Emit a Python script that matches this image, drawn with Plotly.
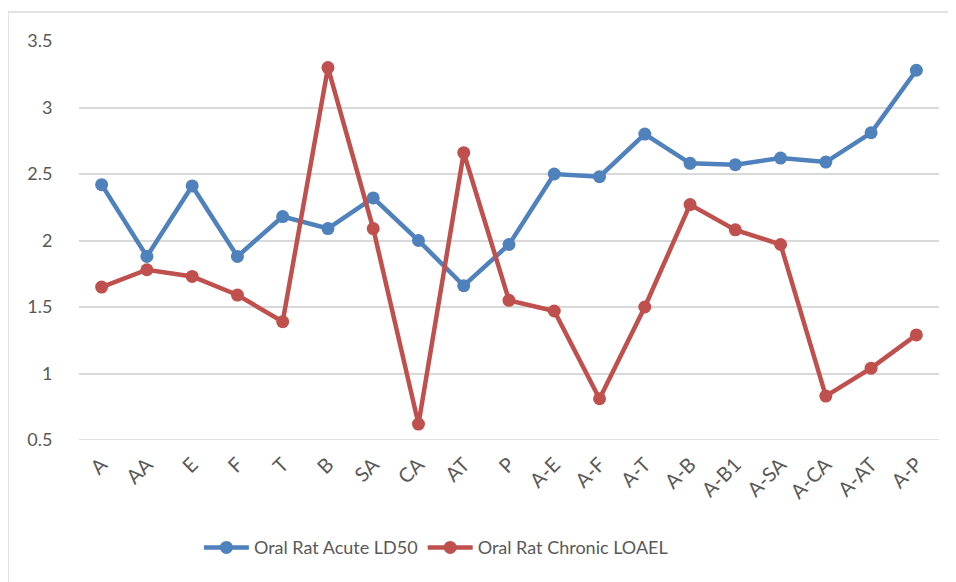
import plotly.graph_objects as go

categories = ["A", "AA", "E", "F", "T", "B", "SA", "CA", "AT", "P",
              "A-E", "A-F", "A-T", "A-B", "A-B1", "A-SA", "A-CA", "A-AT", "A-P"]
acute_ld50 = [2.42, 1.88, 2.41, 1.88, 2.18, 2.09, 2.32, 2.00, 1.66, 1.97,
              2.50, 2.48, 2.80, 2.58, 2.57, 2.62, 2.59, 2.81, 3.28]
chronic_loael = [1.65, 1.78, 1.73, 1.59, 1.39, 3.30, 2.09, 0.62, 2.66, 1.55,
                 1.47, 0.81, 1.50, 2.27, 2.08, 1.97, 0.83, 1.04, 1.29]
y_ticks = [0.5, 1, 1.5, 2, 2.5, 3, 3.5]

blue = "#4F81BD"
red = "#C0504D"

fig = go.Figure()
fig.add_trace(go.Scatter(x=categories, y=acute_ld50, mode="lines+markers",
                         name="Oral Rat Acute LD50",
                         line=dict(color=blue, width=4.5),
                         marker=dict(color=blue, size=13)))
fig.add_trace(go.Scatter(x=categories, y=chronic_loael, mode="lines+markers",
                         name="Oral Rat Chronic LOAEL",
                         line=dict(color=red, width=4.5),
                         marker=dict(color=red, size=13)))

font = dict(family="Lato, 'Open Sans', sans-serif", size=18, color="#595959")

# page has an 8px body offset; reference plot area spans x 79-939, y 41-440
L, T, W, H = 71, 33, 860, 399
fig.update_layout(
    width=956, height=582,
    margin=dict(l=L, r=956 - L - W, t=T, b=582 - T - H),
    paper_bgcolor="white", plot_bgcolor="white",
    font=font,
    showlegend=True,
    legend=dict(orientation="h", x=0.415, xanchor="center", y=-0.27, yanchor="middle",
                font=dict(size=18, color="#595959"), itemwidth=45,
                traceorder="normal"),
    xaxis=dict(type="category", tickangle=-45, showgrid=False, showline=False,
               ticks="", tickfont=dict(size=20, color="#595959"),
               ticklabelstandoff=8,
               range=[-0.5, len(categories) - 0.5]),
    yaxis=dict(range=[0.5, 3.5], tickvals=y_ticks, ticktext=[str(v) for v in y_ticks],
               showgrid=True, gridcolor="#D9D9D9", gridwidth=1.5,
               zeroline=False, showline=False,
               ticks="outside", ticklen=22, tickcolor="rgba(0,0,0,0)",
               tickfont=dict(size=18, color="#595959")),
    shapes=[dict(type="rect", xref="paper", yref="paper",
                 x0=-L / W, x1=1.2, y0=-0.5, y1=(T - 4) / H + 1,
                 line=dict(color="#D9D9D9", width=1.5), fillcolor="rgba(0,0,0,0)",
                 layer="below"),
            dict(type="line", xref="paper", yref="y", x0=0, x1=1, y0=0.5, y1=0.5,
                 line=dict(color="#D9D9D9", width=1.5), layer="below")],
)

fig.write_html("out.html")
